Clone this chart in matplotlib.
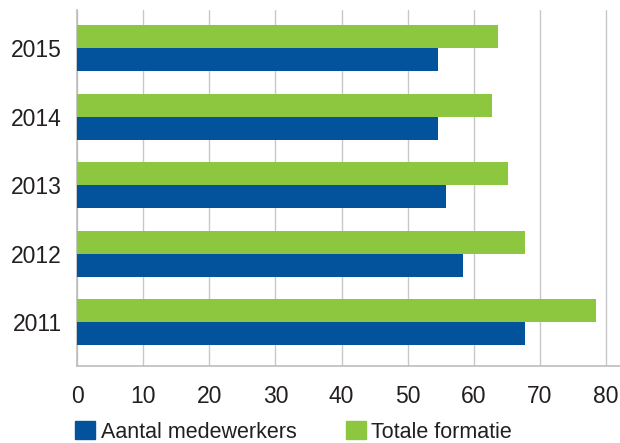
import numpy as np
import matplotlib
matplotlib.use('Agg')
import matplotlib.pyplot as plt
import matplotlib.patches as mpatches

plt.rcParams['font.family'] = ['Liberation Sans', 'DejaVu Sans']

years = ['2011', '2012', '2013', '2014', '2015']
medewerkers = [67.8, 58.3, 55.8, 54.6, 54.6]   # Aantal medewerkers
formatie = [78.4, 67.8, 65.1, 62.8, 63.6]      # Totale formatie

blue = '#03529c'
green = '#8dc63f'
text_col = '#231f20'
grid_col = '#c8c8c8'

fig = plt.figure(figsize=(6.2, 4.43), dpi=100)
ax = fig.add_axes([77 / 620, 77 / 443, 543 / 620, 356 / 443])

y = np.arange(len(years))
h = 0.336
ax.barh(y - h / 2, medewerkers, height=h, color=blue, zorder=3)
ax.barh(y + h / 2, formatie, height=h, color=green, zorder=3)

ax.set_xlim(0, 82.1)
ax.set_ylim(-0.642, 4.555)
ax.set_xticks(range(0, 81, 10))
ax.set_yticks(y)
ax.set_yticklabels(years)
ax.xaxis.grid(True, color=grid_col, linewidth=1.0, zorder=0)
ax.set_axisbelow(True)

for s in ['top', 'right']:
    ax.spines[s].set_visible(False)
for s in ['left', 'bottom']:
    ax.spines[s].set_color('#bdbdbd')
    ax.spines[s].set_linewidth(1.2)

ax.tick_params(axis='x', length=0, pad=14, labelsize=16.5, labelcolor=text_col)
ax.tick_params(axis='y', length=0, pad=11, labelsize=16.5, labelcolor=text_col)

# legend below the axis, two columns, no frame
handles = [mpatches.Patch(color=blue, label='Aantal medewerkers'),
           mpatches.Patch(color=green, label='Totale formatie')]
fig.legend(handles=handles, loc='center left', bbox_to_anchor=(56 / 620, 1 - 432 / 443),
           ncol=2, frameon=False, fontsize=15.5, handlelength=0.92, handleheight=0.85,
           handletextpad=0.25, columnspacing=2.3, labelcolor=text_col)

fig.savefig('out.png', dpi=100)
